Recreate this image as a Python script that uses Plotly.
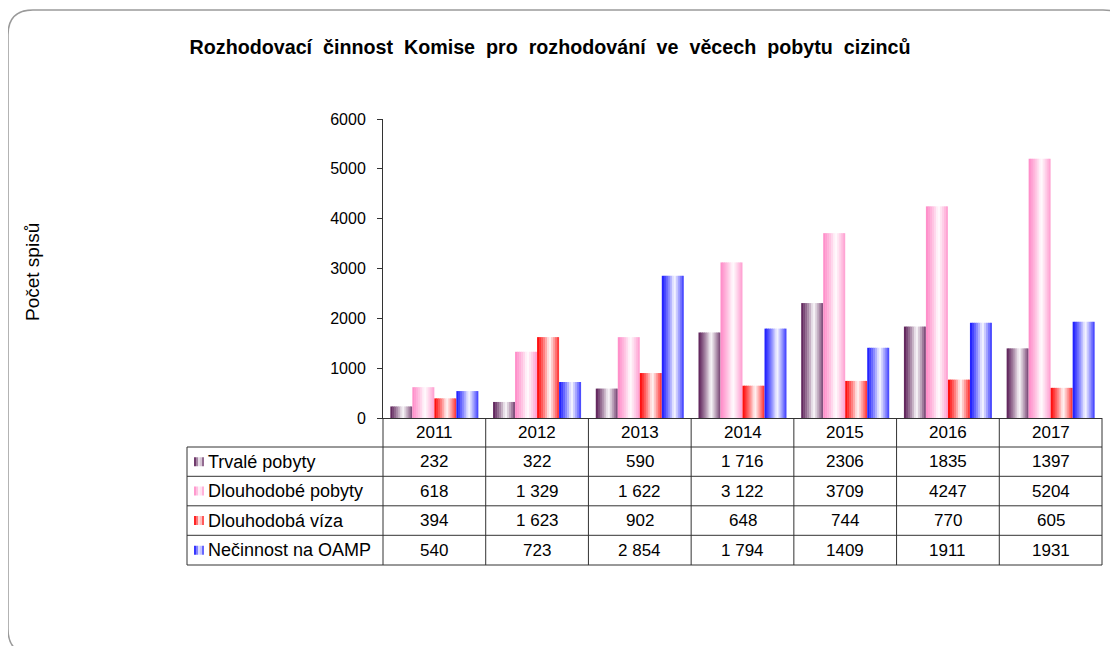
import plotly.graph_objects as go

# ---------------- data ----------------
years = ["2011", "2012", "2013", "2014", "2015", "2016", "2017"]
series_names = ["Trvalé pobyty", "Dlouhodobé pobyty", "Dlouhodobá víza", "Nečinnost na OAMP"]
trvale = [232, 322, 590, 1716, 2306, 1835, 1397]
dlouhodobe_pobyty = [618, 1329, 1622, 3122, 3709, 4247, 5204]
dlouhodoba_viza = [394, 1623, 902, 648, 744, 770, 605]
necinnost = [540, 723, 2854, 1794, 1409, 1911, 1931]
# labels as printed in the data table
trvale_lbl = ["232", "322", "590", "1 716", "2306", "1835", "1397"]
dlouhodobe_pobyty_lbl = ["618", "1 329", "1 622", "3 122", "3709", "4247", "5204"]
dlouhodoba_viza_lbl = ["394", "1 623", "902", "648", "744", "770", "605"]
necinnost_lbl = ["540", "723", "2 854", "1 794", "1409", "1911", "1931"]
y_ticks = [0, 1000, 2000, 3000, 4000, 5000, 6000]

values = [trvale, dlouhodobe_pobyty, dlouhodoba_viza, necinnost]
labels = [trvale_lbl, dlouhodobe_pobyty_lbl, dlouhodoba_viza_lbl, necinnost_lbl]
base_colors = [(88, 26, 84), (255, 136, 198), (255, 0, 0), (20, 20, 255)]

# ---------------- geometry (screen pixels; page has an 8px body margin) ----------------
OFF = 8
FW, FH = 1118 - OFF, 646 - OFF
X0, X1, Y0, Y1 = 383 - OFF, 1102 - OFF, 119 - OFF, 418 - OFF
PW, PH = X1 - X0, Y1 - Y0
FONT = "Arial, Liberation Sans, sans-serif"


def px(xs_):
    return (xs_ - OFF - X0) / PW


def py(ys_):
    return (Y1 - (ys_ - OFF)) / PH


def grad_color(rgb, t):
    # excel-like horizontal gradient: colour -> white -> colour
    if t <= 0.55:
        f = 1 - t / 0.55
        f = f ** 0.8
    else:
        f = 0.85 * ((t - 0.55) / 0.45) ** 1.1
    r, g, b = [round(255 + (c - 255) * f) for c in rgb]
    return f"rgb({r},{g},{b})"


fig = go.Figure()

n_cat = len(years)
xs = list(range(n_cat))
group_w = 0.857
bar_w = group_w / len(values)
N = 11
for s, (vals, rgb) in enumerate(zip(values, base_colors)):
    start = -group_w / 2 + s * bar_w
    sw = bar_w / N
    for j in range(N):
        t = (j + 0.5) / N
        fig.add_trace(go.Bar(
            x=xs, y=vals,
            offset=start + j * sw,
            width=sw * (1.25 if j < N - 1 else 1.0),
            marker=dict(color=grad_color(rgb, t), line=dict(width=0)),
            name=series_names[s], showlegend=False, hoverinfo="y+name",
        ))

shapes = []
line_col = "#333333"
# table geometry (screen px)
row_tops = [418, 447, 476.3, 505.8, 535.3, 565]
label_left = 187
col_edges = [k / n_cat for k in range(n_cat + 1)]
for yr in row_tops[1:]:
    shapes.append(dict(type="line", xref="paper", yref="paper",
                       x0=px(label_left), x1=1, y0=py(yr), y1=py(yr),
                       line=dict(color=line_col, width=1)))
for xe in col_edges:
    shapes.append(dict(type="line", xref="paper", yref="paper",
                       x0=xe, x1=xe, y0=py(row_tops[0]), y1=py(row_tops[-1]),
                       line=dict(color=line_col, width=1)))
shapes.append(dict(type="line", xref="paper", yref="paper",
                   x0=px(label_left), x1=px(label_left), y0=py(row_tops[1]), y1=py(row_tops[-1]),
                   line=dict(color=line_col, width=1)))

annotations = []
hy = (row_tops[0] + row_tops[1]) / 2
for k, yr in enumerate(years):
    annotations.append(dict(xref="paper", yref="paper", x=(k + 0.5) / n_cat, y=py(hy),
                            text=yr, showarrow=False, xanchor="center", yanchor="middle",
                            font=dict(family=FONT, size=17, color="black")))
for s in range(len(values)):
    cy = (row_tops[s + 1] + row_tops[s + 2]) / 2
    annotations.append(dict(xref="paper", yref="paper", x=px(206), y=py(cy),
                            text=series_names[s], showarrow=False, xanchor="left", yanchor="middle",
                            font=dict(family=FONT, size=18, color="black")))
    for j in range(5):
        t = (j + 0.5) / 5
        shapes.append(dict(type="rect", xref="paper", yref="paper",
                           x0=px(194 + 2 * j), x1=px(196 + 2 * j),
                           y0=py(cy + 4.5), y1=py(cy - 4.5),
                           fillcolor=grad_color(base_colors[s], t), line=dict(width=0)))
    for k in range(n_cat):
        annotations.append(dict(xref="paper", yref="paper", x=(k + 0.5) / n_cat, y=py(cy),
                                text=labels[s][k], showarrow=False, xanchor="center", yanchor="middle",
                                font=dict(family=FONT, size=17, color="black")))

annotations.append(dict(xref="paper", yref="paper", x=px(32), y=py(272), text="Počet spisů",
                        textangle=-90, showarrow=False, xanchor="center", yanchor="middle",
                        font=dict(family=FONT, size=19, color="black")))

# outer rounded frame (screen px)
L, T, R, B, r = 8, 10, 1128, 654, 25


def P(a, b):
    return f"{px(a):.5f},{py(b):.5f}"


path = (f"M {P(L + r, T)} L {P(R - r, T)} Q {P(R, T)} {P(R, T + r)} "
        f"L {P(R, B - r)} Q {P(R, B)} {P(R - r, B)} L {P(L + r, B)} "
        f"Q {P(L, B)} {P(L, B - r)} L {P(L, T + r)} Q {P(L, T)} {P(L + r, T)} Z")
shapes.append(dict(type="path", xref="paper", yref="paper", path=path,
                   line=dict(color="#9a9a9a", width=1.5), fillcolor="rgba(0,0,0,0)", layer="below"))

nb = "\u00a0"
title_words = ["Rozhodovací", "činnost", "Komise", "pro", "rozhodování", "ve", "věcech", "pobytu", "cizinců"]
title_txt = (" " + nb).join(title_words)

fig.update_layout(
    width=FW, height=FH,
    margin=dict(l=X0, r=FW - X1, t=Y0, b=FH - Y1),
    paper_bgcolor="white", plot_bgcolor="white",
    barmode="overlay",
    showlegend=False,
    title=dict(text=f"<b>{title_txt}</b>", x=(550 - OFF) / FW, y=1 - (47 - OFF) / FH,
               xref="container", yref="container", xanchor="center", yanchor="middle",
               font=dict(family=FONT, size=19.7, color="black")),
    xaxis=dict(range=[-0.5, n_cat - 0.5], showticklabels=False, showgrid=False, zeroline=False,
               showline=True, linecolor=line_col, linewidth=1, ticks=""),
    yaxis=dict(range=[0, 6000], tickvals=y_ticks, showgrid=False, zeroline=False,
               showline=True, linecolor=line_col, linewidth=1, ticks="outside", ticklen=5,
               tickcolor=line_col, ticklabelstandoff=8,
               tickfont=dict(family=FONT, size=16, color="black")),
    shapes=shapes,
    annotations=annotations,
)

fig.write_html("out.html")
